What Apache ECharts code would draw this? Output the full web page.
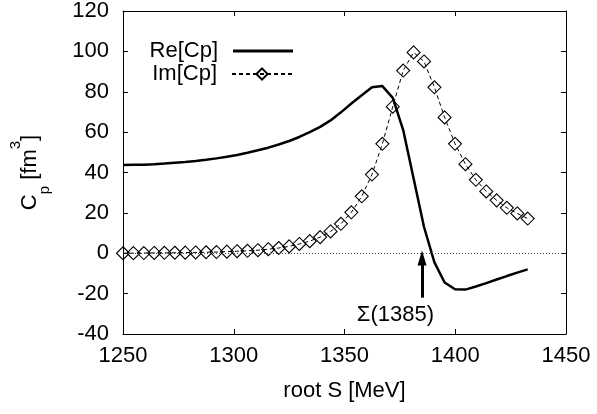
<!DOCTYPE html>
<html>
<head>
<meta charset="utf-8">
<script src="https://cdn.jsdelivr.net/npm/echarts@6/dist/echarts.min.js"></script>
<style>
html,body{margin:0;padding:0;background:#fff;}
#chart{width:597px;height:414px;}
</style>
</head>
<body>
<div id="chart"></div>
<script>
// sqrt(s) grid [MeV]
var rootS = [1250.0,1254.7,1259.4,1264.1,1268.7,1273.4,1278.1,1282.8,1287.5,1292.2,
             1296.9,1301.5,1306.2,1310.9,1315.6,1320.3,1325.0,1329.6,1334.3,1339.0,
             1343.7,1348.4,1353.1,1357.8,1362.4,1367.1,1371.8,1376.5,1381.2,1385.9,
             1390.6,1395.2,1399.9,1404.6,1409.3,1414.0,1418.7,1423.3,1428.0,1432.7];
// Re[Cp] [fm^3]
var reCp = [43.7,43.8,43.9,44.1,44.4,44.8,45.2,45.7,46.3,47.0,
            47.8,48.7,49.8,51.0,52.3,53.9,55.6,57.6,60.0,62.6,
            65.8,69.8,74.2,78.3,82.2,82.8,77.0,61.0,37.0,13.0,
            -4.5,-14.5,-17.8,-18.0,-16.5,-14.8,-13.0,-11.3,-9.6,-8.0];
// Im[Cp] [fm^3]
var imCp = [0.0,0.05,0.1,0.15,0.2,0.25,0.3,0.4,0.5,0.6,
            0.8,1.0,1.2,1.5,2.0,2.6,3.4,4.6,6.0,8.0,
            10.8,14.6,20.3,28.2,39.0,54.2,72.6,90.5,99.5,95.0,
            82.2,67.3,54.2,44.1,36.4,30.6,26.2,22.5,19.7,17.2];
var xTicks = {min:1250, max:1450, interval:50};
var yTicks = {min:-40, max:120, interval:20};
var resonance = {mass:1385, arrowFrom:-22, arrowTo:-2.3, label:'Σ(1385)', labelX:1373, labelY:-30.5};

var FONT = 'Liberation Sans, Arial, Helvetica, sans-serif';
function pairs(xs, ys){ return xs.map(function(x,i){ return [x, ys[i]]; }); }
function plain(v){ return String(v); }

var chart = echarts.init(document.getElementById('chart'), null, {renderer:'canvas'});
function axisCommon(){
  return {
    axisLine:{show:true, onZero:false, lineStyle:{color:'#000', width:1}},
    axisTick:{show:true, inside:true, length:5, lineStyle:{color:'#000', width:1}},
    splitLine:{show:false}
  };
}
var legendText = {fontSize:22, fontFamily:FONT, color:'#000', lineHeight:24, padding:[0,10,0,0]};
var option = {
  animation:false,
  backgroundColor:'#fff',
  textStyle:{fontFamily:FONT},
  grid:{left:121, right:31, top:10, bottom:80, show:false},
  legend:[
    {data:[{name:'Re[Cp]', icon:'rect'}], right:304, top:39, padding:0, align:'right', itemWidth:60, itemHeight:3,
     textStyle:legendText},
    {data:['Im[Cp]'], right:304, top:62, padding:0, align:'right', itemWidth:60, itemHeight:14,
     textStyle:legendText}
  ],
  xAxis:[
    Object.assign(axisCommon(), {type:'value', position:'bottom', min:xTicks.min, max:xTicks.max, interval:xTicks.interval,
      name:'root S [MeV]', nameLocation:'middle', nameGap:46,
      nameTextStyle:{fontSize:22, color:'#000', fontFamily:FONT},
      axisLabel:{fontSize:22, color:'#000', margin:11, fontFamily:FONT, formatter:plain}}),
    Object.assign(axisCommon(), {type:'value', position:'top', min:xTicks.min, max:xTicks.max, interval:xTicks.interval,
      axisLabel:{show:false}})
  ],
  yAxis:[
    Object.assign(axisCommon(), {type:'value', position:'left', min:yTicks.min, max:yTicks.max, interval:yTicks.interval,
      name:'{a|C}{sub|p}{a| [fm}{sup|3}{a|]}', nameLocation:'middle', nameRotate:90, nameGap:71,
      nameTextStyle:{color:'#000', fontFamily:FONT, fontSize:22,
        rich:{
          a:{fontSize:22, lineHeight:44, fontFamily:FONT, color:'#000'},
          sub:{fontSize:15, lineHeight:15, verticalAlign:'bottom', fontFamily:FONT, color:'#000'},
          sup:{fontSize:15, lineHeight:15, verticalAlign:'top', fontFamily:FONT, color:'#000'}
        }},
      axisLabel:{fontSize:22, color:'#000', margin:14, fontFamily:FONT, formatter:plain}}),
    Object.assign(axisCommon(), {type:'value', position:'right', min:yTicks.min, max:yTicks.max, interval:yTicks.interval,
      axisLabel:{show:false}})
  ],
  series:[
    {
      name:'Re[Cp]', type:'line', xAxisIndex:0, yAxisIndex:0,
      data:pairs(rootS, reCp), showSymbol:false, symbol:'none',
      lineStyle:{color:'#000', width:2.5}, itemStyle:{color:'#000'},
      z:3,
      markLine:{
        silent:true, symbol:['none','none'], animation:false,
        label:{show:false},
        lineStyle:{color:'#444', width:1, type:[1,2]},
        data:[{yAxis:0}]
      },
      markPoint:{
        silent:true, symbol:'rect', symbolSize:1, itemStyle:{color:'rgba(0,0,0,0)'},
        label:{show:true, position:'inside', formatter:resonance.label, fontSize:22, color:'#000', fontFamily:FONT},
        data:[{coord:[resonance.labelX, resonance.labelY]}]
      }
    },
    {
      name:'Im[Cp]', type:'line', xAxisIndex:0, yAxisIndex:0,
      data:pairs(rootS, imCp), symbol:'diamond', symbolSize:13, showSymbol:true,
      lineStyle:{color:'#000', width:1, type:[4,3]},
      itemStyle:{color:'rgba(0,0,0,0)', borderColor:'#000', borderWidth:1.1},
      z:2,
      markLine:{
        silent:true, symbol:['none','triangle'], symbolSize:[9,15], animation:false,
        label:{show:false},
        lineStyle:{color:'#000', width:3, type:'solid'},
        data:[[{coord:[resonance.mass, resonance.arrowFrom]},{coord:[resonance.mass, resonance.arrowTo]}]]
      }
    }
  ]
};
chart.setOption(option);
</script>
</body>
</html>
